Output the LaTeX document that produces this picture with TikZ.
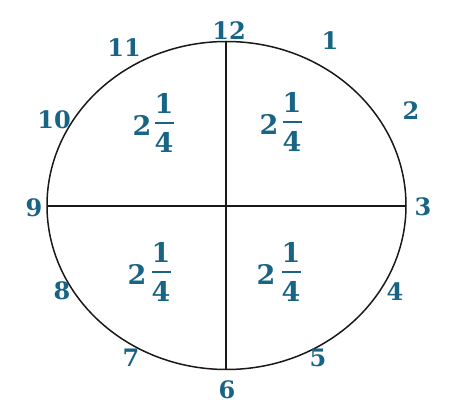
\documentclass[tikz,border=0pt]{standalone}
\usepackage{fontspec}
\usetikzlibrary{shapes.geometric}
\newfontfamily\clockfont{DejaVu Serif}[BoldFont={DejaVu Serif Bold}]
\definecolor{numblue}{RGB}{24,100,132}
\definecolor{rimgray}{RGB}{25,25,25}
\begin{document}
\begin{tikzpicture}[x=1pt,y=-1pt,
  hour/.style={inner sep=0pt,text=numblue,font=\clockfont\bfseries\fontsize{24}{24}\selectfont},
  fracdigit/.style={inner sep=0pt,text=numblue,font=\clockfont\bfseries\fontsize{27}{27}\selectfont},
  fracbar/.style={draw=numblue,line width=2.6pt},
  rim/.style={draw=rimgray,line width=1.5pt}]
\useasboundingbox (0,0) rectangle (451,404);
\fill[white] (0,0) rectangle (451,404);
% clock face
\node[rim,ellipse,minimum width=359pt,minimum height=328pt,inner sep=0pt] (face) at (226.5,205.5) {};
\coordinate (top) at (226,41.5);
\coordinate (bot) at (226,369.5);
\coordinate (lft) at (47,206);
\coordinate (rgt) at (406,206);
\draw[rim] (top) -- (bot);
\draw[rim] (lft) -- (rgt);
% hour labels
\node[hour] (h12) at (229,31) {12};
\node[hour] (h1) at (330,41) {1};
\node[hour] (h2) at (411,111) {2};
\node[hour] (h3) at (423,207) {3};
\node[hour] (h4) at (395,292) {4};
\node[hour] (h5) at (318,358) {5};
\node[hour] (h6) at (227,390) {6};
\node[hour] (h7) at (131,358) {7};
\node[hour] (h8) at (62,291) {8};
\node[hour] (h9) at (34,208) {9};
\node[hour] (h10) at (54,120) {10};
\node[hour] (h11) at (124,48) {11};
% mixed numbers 2 1/4
\foreach \q/\wx/\bx/\by in {tl/142/164/123, tr/269/292/122, bl/137/161/272, br/266/291/272}{
  \node[fracdigit] (\q w) at (\wx,\by+2) {2};
  \node[fracdigit] (\q n) at (\bx,\by-20) {1};
  \node[fracdigit] (\q d) at (\bx,\by+19) {4};
  \coordinate (\q a) at (\bx-9.5,\by);
  \coordinate (\q b) at (\bx+9.5,\by);
  \draw[fracbar] (\q a) -- (\q b);
}
\end{tikzpicture}
\end{document}
